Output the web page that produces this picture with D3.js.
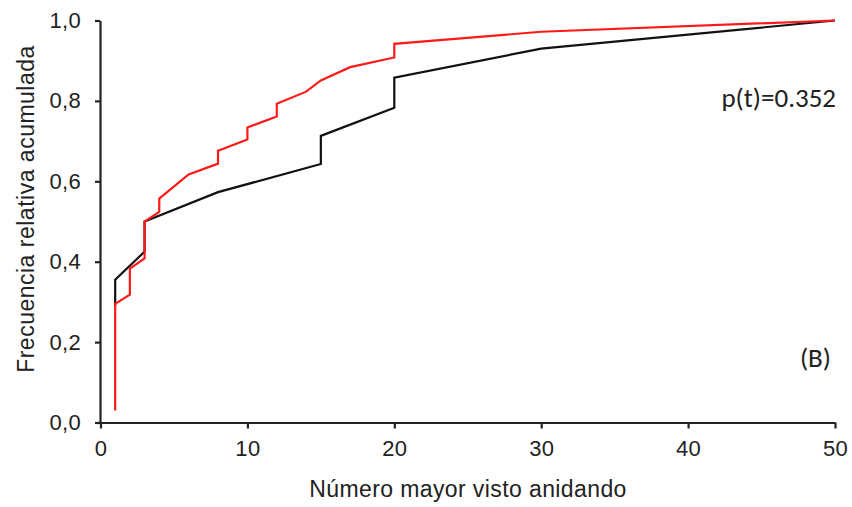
<!DOCTYPE html>
<html>
<head>
<meta charset="utf-8">
<script src="https://cdn.jsdelivr.net/npm/d3@7"></script>
<style>
  body { margin: 0; background: #fff; }
  text { font-family: "Liberation Sans", Arial, Helvetica, sans-serif; fill: #222; }
</style>
</head>
<body>
<div id="chart"></div>
<script>
// cumulative curves (x = number, y = cumulative rel. frequency)
var blackX = [1, 1, 3, 3, 8, 15, 15, 20, 20, 30, 50];
var blackY = [0.29, 0.355, 0.425, 0.5, 0.573, 0.643, 0.713, 0.783, 0.858, 0.93, 1.0];

var redX = [1, 1, 2, 2, 3, 3, 4, 4, 6, 8, 8, 10, 10, 12, 12, 14, 15, 17, 20, 20, 30, 50];
var redY = [0.03, 0.295, 0.318, 0.383, 0.408, 0.5, 0.524, 0.557, 0.617, 0.644, 0.676, 0.704, 0.734, 0.761, 0.793, 0.823, 0.851, 0.884, 0.908, 0.942, 0.972, 1.0];

var xTicks = [0, 10, 20, 30, 40, 50];
var yTicks = [0, 0.2, 0.4, 0.6, 0.8, 1.0];

var W = 852, H = 507;

var svg = d3.select("#chart")
    .append("svg")
    .attr("width", W)
    .attr("height", H);

var x = d3.scaleLinear().domain([0, 50]).range([100.5, 835]);
var y = d3.scaleLinear().domain([0, 1]).range([422.5, 20.5]);

var fmt = d => d3.format(".1f")(d).replace(".", ",");

// X axis
var xAxis = svg.append("g")
    .attr("transform", "translate(0," + y(0) + ")")
    .call(d3.axisBottom(x).tickValues(xTicks).tickSize(6).tickPadding(12).tickSizeOuter(0));

// Y axis
var yAxis = svg.append("g")
    .attr("transform", "translate(" + 100 + ",0)")
    .call(d3.axisLeft(y).tickValues(yTicks).tickFormat(fmt).tickSize(5).tickPadding(14).tickSizeOuter(0));

[xAxis, yAxis].forEach(function(a) {
    a.select(".domain").attr("stroke", "#222").attr("stroke-width", 2.2);
    a.selectAll(".tick line").attr("stroke", "#222").attr("stroke-width", 2.2);
    a.selectAll(".tick text")
        .style("font-family", "'Liberation Sans', Arial, Helvetica, sans-serif")
        .style("font-size", "22px")
        .style("letter-spacing", "0.3px")
        .attr("fill", "#222");
});

// line generator
var line = d3.line()
    .x(d => x(d[0]))
    .y(d => y(d[1]));

svg.append("path")
    .datum(d3.zip(blackX, blackY))
    .attr("d", line)
    .attr("fill", "none")
    .attr("stroke", "#111")
    .attr("stroke-width", 2.2)
    .attr("stroke-linejoin", "miter");

svg.append("path")
    .datum(d3.zip(redX, redY))
    .attr("d", line)
    .attr("fill", "none")
    .attr("stroke", "#ff1a1a")
    .attr("stroke-width", 2.2)
    .attr("stroke-linejoin", "miter");

// axis titles
svg.append("text")
    .attr("x", 468)
    .attr("y", 497)
    .attr("text-anchor", "middle")
    .style("font-family", "'Liberation Sans', Arial, Helvetica, sans-serif")
    .style("font-size", "23px")
    .style("letter-spacing", "0.4px")
    .text("Número mayor visto anidando");

svg.append("text")
    .attr("transform", "translate(34,209) rotate(-90)")
    .attr("text-anchor", "middle")
    .style("font-family", "'Liberation Sans', Arial, Helvetica, sans-serif")
    .style("font-size", "23px")
    .style("letter-spacing", "0.5px")
    .text("Frecuencia relativa acumulada");

// annotations
svg.append("text")
    .attr("x", 836)
    .attr("y", 107)
    .attr("text-anchor", "end")
    .style("font-family", "Carlito, Calibri, Lato, sans-serif")
    .style("font-size", "27px")
    .attr("fill", "#111")
    .text("p(t)=0.352");

svg.append("text")
    .attr("x", 831)
    .attr("y", 367)
    .attr("text-anchor", "end")
    .style("font-family", "Carlito, Calibri, Lato, sans-serif")
    .style("font-size", "27px")
    .attr("fill", "#111")
    .text("(B)");
</script>
</body>
</html>
